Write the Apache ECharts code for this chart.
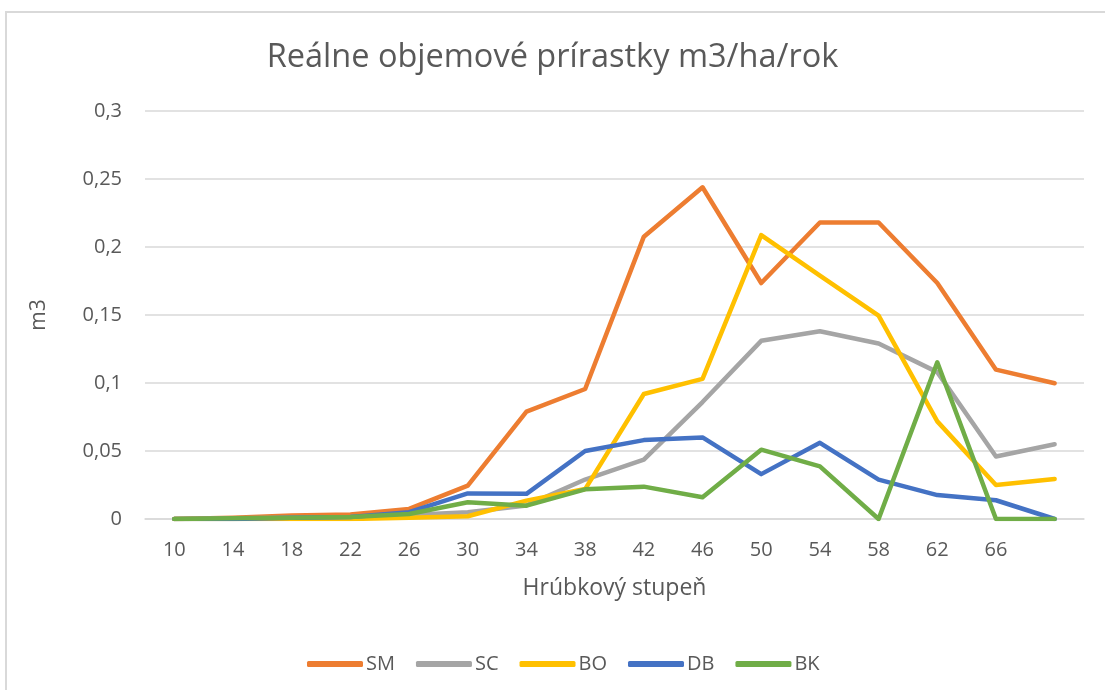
<!DOCTYPE html>
<html>
<head>
<meta charset="utf-8">
<script src="https://cdn.jsdelivr.net/npm/echarts@6/dist/echarts.min.js"></script>
<style>
html,body{margin:0;padding:0;background:#fff;}
#frame{position:absolute;left:5px;top:11px;width:1200px;height:800px;border:2px solid #d9d9d9;box-sizing:border-box;}
#chart{position:absolute;left:0;top:0;width:1105px;height:690px;}
</style>
</head>
<body>
<div id="frame"></div>
<div id="chart"></div>
<script>
const categories = ['10','14','18','22','26','30','34','38','42','46','50','54','58','62','66',''];
const SM = [0, 0.001, 0.0025, 0.0034, 0.0074, 0.0245, 0.079, 0.0956, 0.2076, 0.2439, 0.1735, 0.218, 0.218, 0.1735, 0.1098, 0.0998];
const SC = [0, 0.0005, 0.001, 0.0015, 0.003, 0.005, 0.01, 0.029, 0.0436, 0.086, 0.131, 0.138, 0.129, 0.108, 0.046, 0.055];
const BO = [0, 0, 0, 0, 0.001, 0.002, 0.0135, 0.022, 0.0919, 0.103, 0.2088, 0.179, 0.1495, 0.0718, 0.025, 0.0294];
const DB = [0, 0, 0.001, 0.0015, 0.005, 0.0188, 0.0185, 0.05, 0.058, 0.06, 0.033, 0.056, 0.029, 0.0176, 0.0138, 0];
const BK = [0, 0.0005, 0.001, 0.0015, 0.0037, 0.0123, 0.0098, 0.0218, 0.0238, 0.016, 0.051, 0.0387, 0, 0.1152, 0, 0];
const seriesNames = ['SM','SC','BO','DB','BK'];
const seriesData = [SM, SC, BO, DB, BK];
const colors = ['#ED7D31','#A5A5A5','#FFC000','#4472C4','#70AD47'];

const FONT = 'Open Sans';
const chart = echarts.init(document.getElementById('chart'), null, {renderer:'canvas'});
chart.setOption({
  backgroundColor: 'transparent',
  animation: false,
  color: colors,
  title: {
    text: 'Reálne objemové prírastky m3/ha/rok',
    left: 'center', top: 36,
    textStyle: {fontFamily: FONT, fontSize: 32.5, fontWeight: 'normal', color: '#595959'}
  },
  legend: {
    top: 649, left: 302,
    itemWidth: 56, itemHeight: 6, itemGap: 21,
    icon: 'roundRect',
    textStyle: {fontFamily: FONT, fontSize: 20, color: '#595959', padding: [0,0,0,-2]},
    data: seriesNames
  },
  grid: {left: 145, right: 21, top: 111, bottom: 171},
  xAxis: {
    type: 'category',
    data: categories,
    boundaryGap: true,
    name: 'Hrúbkový stupeň',
    nameLocation: 'middle',
    nameGap: 58,
    nameTextStyle: {fontFamily: FONT, fontSize: 23, color: '#595959'},
    axisLine: {lineStyle: {color: '#d9d9d9', width: 1.5}},
    axisTick: {show: false},
    axisLabel: {fontFamily: FONT, fontSize: 20, color: '#595959', margin: 21, interval: 0}
  },
  yAxis: {
    type: 'value',
    min: 0, max: 0.3, interval: 0.05,
    name: 'm3',
    nameLocation: 'middle',
    nameGap: 95,
    nameRotate: 90,
    nameTextStyle: {fontFamily: FONT, fontSize: 21, color: '#595959'},
    axisLine: {show: false},
    axisTick: {show: false},
    splitLine: {lineStyle: {color: '#d9d9d9', width: 1.5}},
    axisLabel: {
      fontFamily: FONT, fontSize: 20, color: '#595959', margin: 23,
      formatter: v => String(Math.round(v*100)/100).replace('.', ',')
    }
  },
  series: seriesNames.map((n, i) => ({
    name: n,
    type: 'line',
    data: seriesData[i],
    symbol: 'none',
    lineStyle: {width: 4.5, color: colors[i], cap: 'round', join: 'round'},
    itemStyle: {color: colors[i]}
  }))
});
</script>
</body>
</html>
